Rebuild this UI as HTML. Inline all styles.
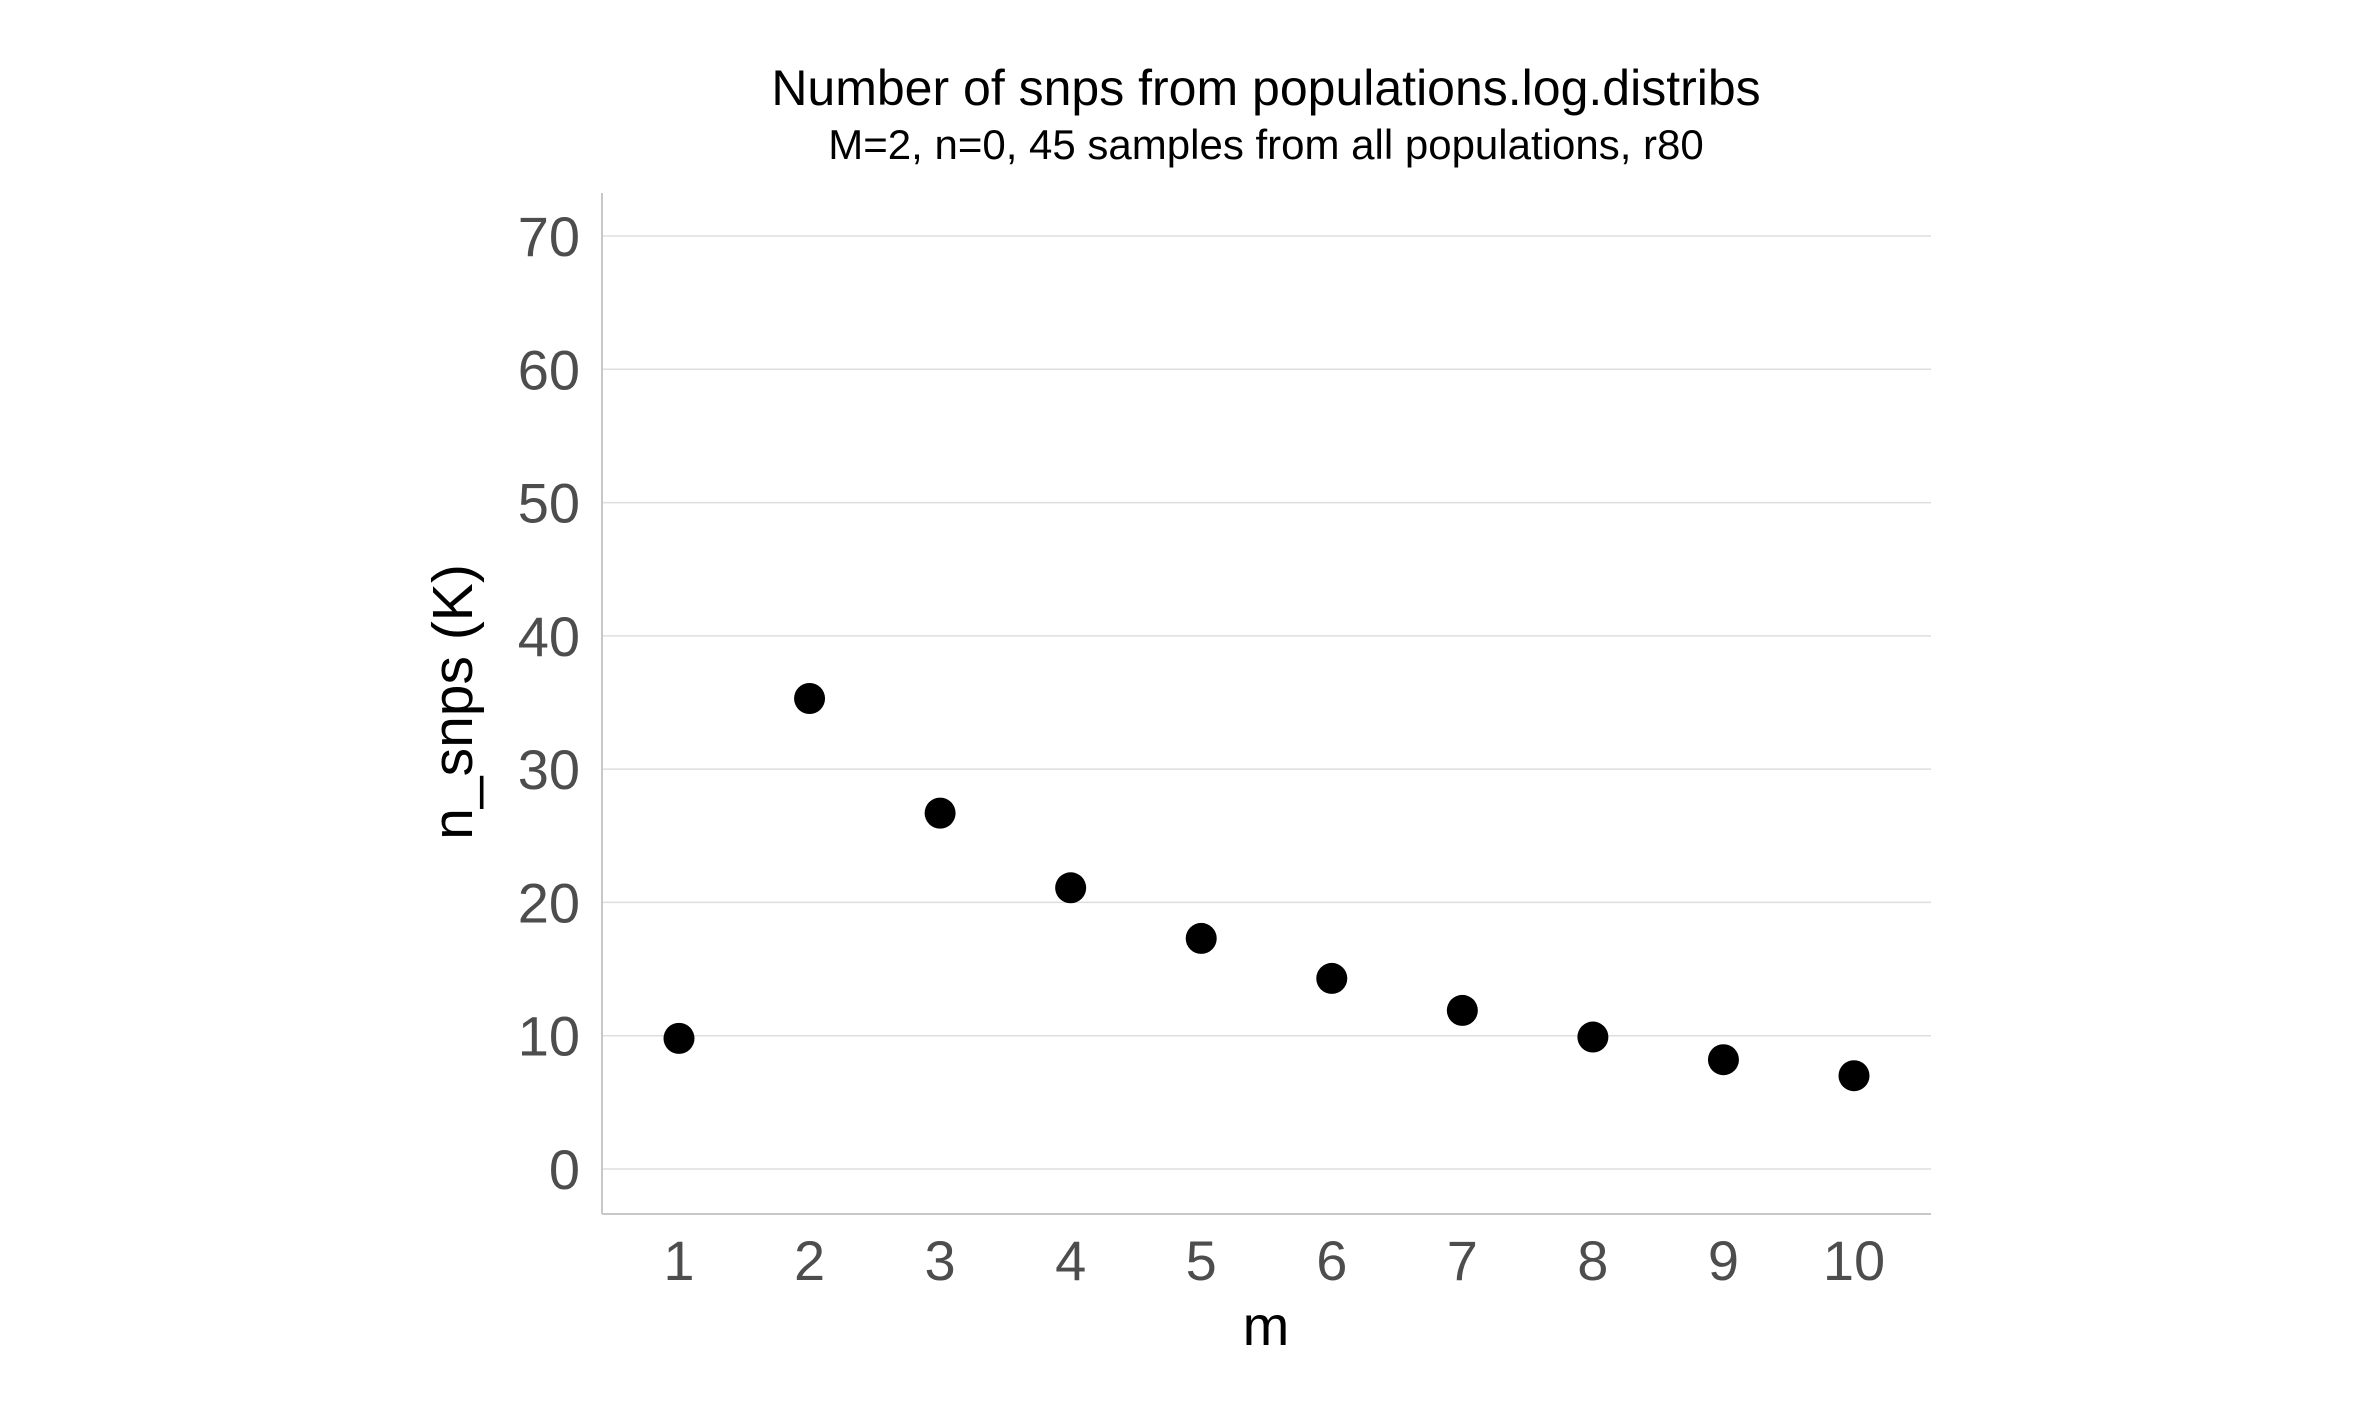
<!DOCTYPE html>
<html><head><meta charset="utf-8"><style>
html,body{margin:0;padding:0;background:#fff;}
svg{display:block;font-family:"Liberation Sans",Arial,sans-serif;}
</style></head><body>
<svg id="chart" width="2362" height="1417" viewBox="0 0 2362 1417">
<rect width="2362" height="1417" fill="#fff"/>
<text x="1266" y="105" text-anchor="middle" font-size="50" fill="#000">Number of snps from populations.log.distribs</text>
<text x="1266" y="159" text-anchor="middle" font-size="42" fill="#000">M=2, n=0, 45 samples from all populations, r80</text>
<g id="grid"></g>
<line x1="602" y1="193" x2="602" y2="1214" stroke="#c8c8c8" stroke-width="2"/>
<line x1="602" y1="1214" x2="1931" y2="1214" stroke="#c8c8c8" stroke-width="2"/>
<g id="yticks"></g><g id="xticks"></g><g id="points"></g>
<text x="1266" y="1345" text-anchor="middle" font-size="56" fill="#000">m</text>
<text transform="translate(472,702) rotate(-90)" text-anchor="middle" font-size="57" fill="#000">n_snps (K)</text>
</svg>
<script>
const categories = [1,2,3,4,5,6,7,8,9,10];
const values = [9.8,35.3,26.7,21.1,17.3,14.3,11.9,9.9,8.2,7.0];
const yTicks = [0,10,20,30,40,50,60,70];
const NS='http://www.w3.org/2000/svg';
function xs(v){return 679+(v-1)*(1854-679)/9;}
function ys(v){return 1169-v*(1169-236)/70;}
function mk(t,a,p){const e=document.createElementNS(NS,t);for(const k in a)e.setAttribute(k,a[k]);p.appendChild(e);return e;}
const grid=document.getElementById('grid'),yt=document.getElementById('yticks'),xt=document.getElementById('xticks'),pts=document.getElementById('points');
yTicks.forEach(v=>{
 const l=mk('line',{x1:602,x2:1931,y1:ys(v),y2:ys(v),stroke:'#dedede','stroke-width':1.5},grid);
 
 
 const t=mk('text',{x:580,y:ys(v)+20,'text-anchor':'end','font-size':56,fill:'#4d4d4d'},yt);
 t.textContent=v;
 
 
});
categories.forEach((c,i)=>{
 const t=mk('text',{x:xs(c),y:1280,'text-anchor':'middle','font-size':56,fill:'#4d4d4d'},xt);
 t.textContent=c;
 
 
 const p=mk('circle',{cx:xs(c),cy:ys(values[i]),r:15.5,fill:'#000'},pts);
 
 
});
</script>
</body></html>
